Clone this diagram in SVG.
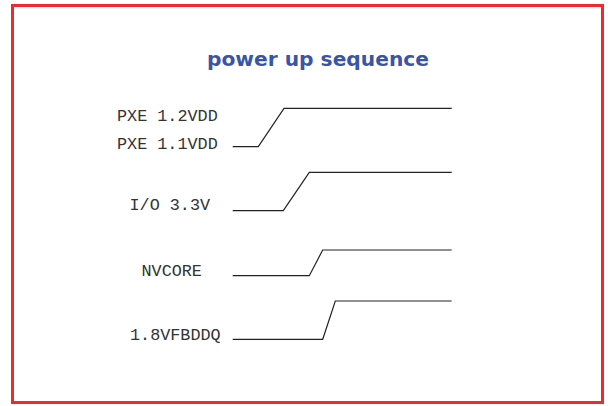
<svg xmlns="http://www.w3.org/2000/svg" width="608" height="406" viewBox="0 0 608 406">
<style>
.lbl{font-family:"Liberation Mono","Courier New",monospace;font-size:16.8px;fill:#333}
.sig{fill:none;stroke:#222;stroke-width:1.2}
</style>
<rect x="12.5" y="5.5" width="590" height="397" fill="#fff" stroke="#ee2a2e" stroke-width="3"/>
<text x="318" y="66" text-anchor="middle" font-family="Verdana,'DejaVu Sans',sans-serif" font-weight="bold" font-size="20" textLength="222" lengthAdjust="spacingAndGlyphs" fill="#3a55a5">power up sequence</text>
<g id="pxe">
<text class="lbl" x="117" y="121">PXE 1.2VDD</text>
<text class="lbl" x="117" y="149">PXE 1.1VDD</text>
</g>
<g id="io"><text class="lbl" x="129.5" y="210">I/O 3.3V</text></g>
<g id="nvcore"><text class="lbl" x="141.5" y="276">NVCORE</text></g>
<g id="vfbddq"><text class="lbl" x="130" y="340">1.8VFBDDQ</text></g>
<g id="connectors">
<polyline class="sig" points="232.7,146.7 258.3,146.7 284,108.3 451.7,108.3"/>
<polyline class="sig" points="232.7,210.7 283.3,210.7 309.3,172.3 451.7,172.3"/>
<polyline class="sig" points="232.7,275.7 309.3,275.7 322.7,250 451.7,250"/>
<polyline class="sig" points="232.7,339.3 322.7,339.3 335.3,301 451.7,301"/>
</g>
</svg>
